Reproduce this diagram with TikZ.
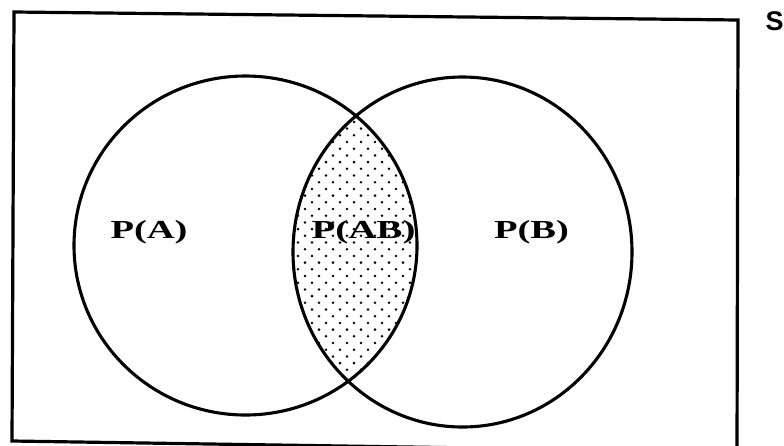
\documentclass[tikz,border=0pt]{standalone}
\usepackage{fontspec}
\setmainfont{Liberation Serif}
\newfontfamily\sansS{Liberation Sans}
\begin{document}
\begin{tikzpicture}[x=1pt,y=-1pt,
  frame/.style={line width=3.2pt,line join=miter},
  setline/.style={line width=3.1pt},
  lbl/.style={inner sep=0pt,font=\fontsize{26}{30}\selectfont\bfseries},
  dotfill/.style={fill=black}]
\useasboundingbox (0,0) rectangle (784,445);
\clip (0,0) rectangle (784,445);
% sample space frame
\draw[frame] (14,12) -- (738,20) -- (737,452) -- (12,441) -- cycle;
% dotted intersection
\begin{scope}
  \clip (245.5,245.5) ellipse [x radius=171.5, y radius=169.5];
  \clip (462.5,252) ellipse [x radius=169.5, y radius=175];
  \foreach \j in {-27,...,17}{
    \foreach \i in {-4,...,8}{
      \fill[dotfill] ({326+14*\i+7*mod(\j+100,2)},{282.7+6.7*\j}) circle (1.4);
    }
  }
\end{scope}
% circles
\draw[setline] (245.5,245.5) ellipse [x radius=171.5, y radius=169.5];
\draw[setline] (462.5,252) ellipse [x radius=169.5, y radius=175];
% labels
\node[lbl] (pa) at (149,232) {\scalebox{1.48}[1]{P(A)}};
\node[lbl] (pab) at (363.5,232) {\scalebox{1.5}[1]{P(AB)}};
\node[lbl] (pb) at (531.5,232) {\scalebox{1.48}[1]{P(B)}};
\node[inner sep=0pt,font=\sansS\fontsize{27}{29}\selectfont\bfseries] (s) at (774.5,21) {S};
\end{tikzpicture}
\end{document}
